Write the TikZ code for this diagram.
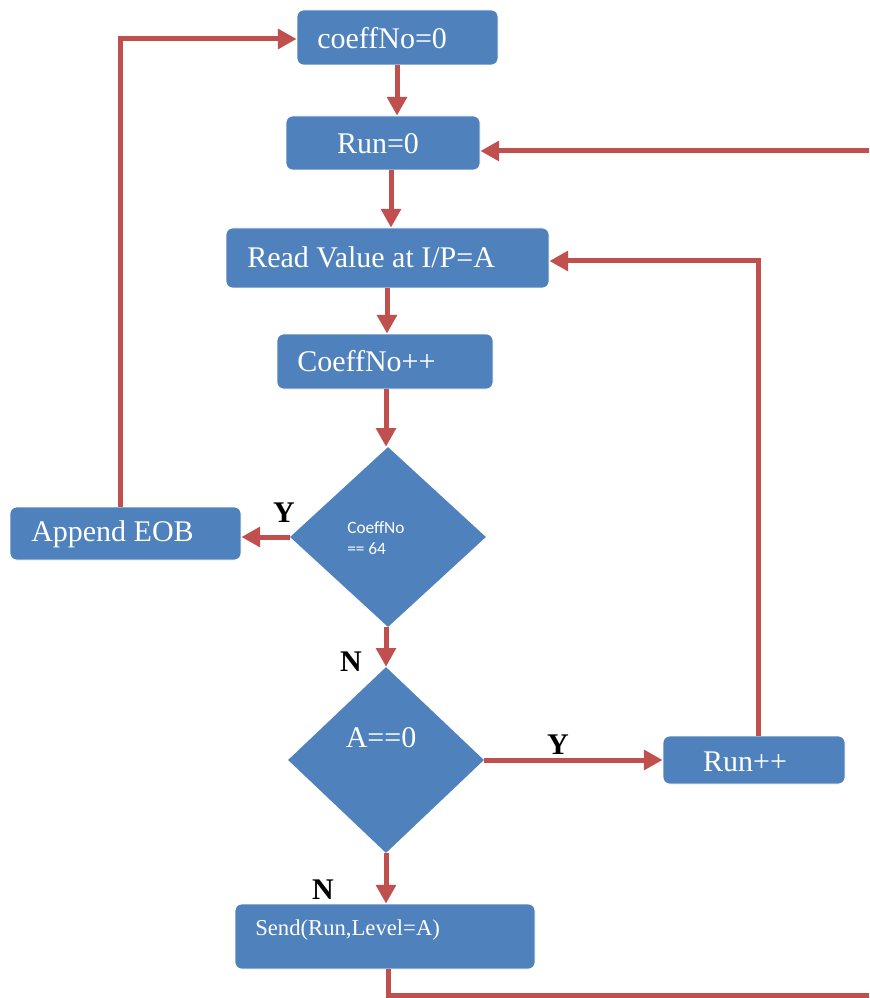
\documentclass[tikz,border=0pt]{standalone}
\usepackage{fontspec}
\setmainfont{Liberation Serif}
\newfontfamily\calib{Carlito}
\usetikzlibrary{shapes.geometric,arrows.meta}
\definecolor{boxblue}{HTML}{4F81BD}
\definecolor{arrred}{HTML}{C0504D}
\begin{document}
\begin{tikzpicture}[x=0.75pt,y=-0.75pt,
  box/.style={draw=white,line width=0.6pt,fill=boxblue,rounded corners=5pt,inner sep=0pt},
  dia/.style={diamond,fill=boxblue,inner sep=0pt},
  btxt/.style={text=white,inner sep=0pt,font=\fontsize{22.5}{27}\selectfont},
  lbl/.style={inner sep=0pt,font=\fontsize{22.5}{27}\selectfont\bfseries},
  arr/.style={draw=arrred,line width=3.75pt,-{Triangle[length=14pt,width=14.5pt]}},
  ln/.style={draw=arrred,line width=3.75pt}]
\useasboundingbox (0,0) rectangle (869,998);
% boxes
\node[box,minimum width={201*0.75pt},minimum height={55*0.75pt}] (c0) at (397.5,37.5) {};
\node[btxt,anchor=west] (c0t) at (317,38) {coeffNo=0};
\node[box,minimum width={194*0.75pt},minimum height={54*0.75pt}] (r0) at (383,143) {};
\node[btxt] (r0t) at (378,144) {Run=0};
\node[box,minimum width={323*0.75pt},minimum height={60*0.75pt}] (rd) at (387.5,258) {};
\node[btxt,anchor=west] (rdt) at (247,257) {Read Value at I/P=A};
\node[box,minimum width={216*0.75pt},minimum height={55*0.75pt}] (cp) at (385,361.5) {};
\node[btxt,anchor=west] (cpt) at (297,361) {CoeffNo++};
\node[dia,minimum width={196*0.75pt},minimum height={180*0.75pt}] (d1) at (388,537) {};
\node[inner sep=0pt,text=white,align=left,anchor=west,font=\calib\fontsize{13}{16}\selectfont] (d1t) at (347,538) {CoeffNo\\== 64};
\node[box,minimum width={231*0.75pt},minimum height={53*0.75pt}] (eob) at (125.5,533.5) {};
\node[btxt,anchor=west] (eobt) at (31,534) {Append EOB};
\node[dia,minimum width={196*0.75pt},minimum height={186*0.75pt}] (d2) at (386,760) {};
\node[btxt] (d2t) at (381,738) {A==0};
\node[box,minimum width={182*0.75pt},minimum height={48*0.75pt}] (rpp) at (754,760) {};
\node[btxt] (rppt) at (745,762) {Run++};
\node[box,minimum width={300*0.75pt},minimum height={65*0.75pt}] (snd) at (385,936.5) {};
\node[btxt,anchor=west,font=\fontsize{17}{20}\selectfont] (sndt) at (255,930) {Send(Run,Level=A)};
% labels
\node[lbl] (y1) at (284,513) {Y};
\node[lbl] (n1) at (351,662) {N};
\node[lbl] (y2) at (558,745) {Y};
\node[lbl] (n2) at (323,890) {N};
% helper coordinates
\coordinate (eobtop) at (120,507);
\coordinate (eobturn) at (120,39);
\coordinate (rpptop) at (758,736);
\coordinate (rppturn) at (758,261);
\coordinate (sndbot) at (388,969);
\coordinate (sndturn) at (388,995);
\coordinate (sndend) at (869,995);
\coordinate (rin) at (869,151);
% connectors
\draw[arr] (c0.south -| 397,0) -- (r0.north -| 397,0);
\draw[arr] (r0.south -| 391,0) -- (rd.north -| 391,0);
\draw[arr] (rd.south -| 387,0) -- (cp.north -| 387,0);
\draw[arr] (cp.south -| 386,0) -- (d1.north -| 386,0);
\draw[arr] (d1.south -| 386,0) -- (d2.north -| 386,0);
\draw[arr] (d1.west) -- (eob.east |- d1.west);
\draw[arr] (eobtop) -- (eobturn) -- (c0.west |- eobturn);
\draw[arr] (d2.east) -- (rpp.west |- d2.east);
\draw[arr] (rpptop) -- (rppturn) -- (rd.east |- rppturn);
\draw[arr] (d2.south) -- (snd.north -| d2.south);
\draw[ln] (sndbot) -- (sndturn) -- (sndend);
\draw[arr] (rin) -- (r0.east |- rin);
\end{tikzpicture}
\end{document}
